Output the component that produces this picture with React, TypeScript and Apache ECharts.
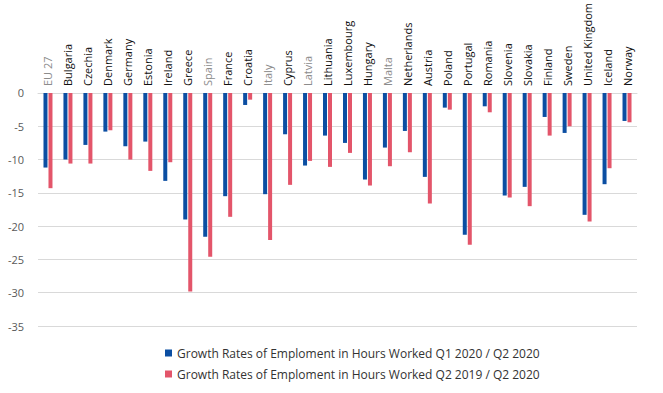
import React, { useEffect, useRef } from "react";
import * as echarts from "echarts";

const categories = [
  "EU 27", "Bulgaria", "Czechia", "Denmark", "Germany", "Estonia", "Ireland", "Greece", "Spain", "France",
  "Croatia", "Italy", "Cyprus", "Latvia", "Lithuania", "Luxembourg", "Hungary", "Malta", "Netherlands", "Austria",
  "Poland", "Portugal", "Romania", "Slovenia", "Slovakia", "Finland", "Sweden", "United Kingdom", "Iceland", "Norway",
];

const greyLabels = ["EU 27", "Spain", "Italy", "Latvia", "Malta"];

const q1q2_2020 = [
  -11.2, -10.0, -7.8, -5.8, -8.0, -7.3, -13.2, -19.0, -21.6, -15.5,
  -1.8, -15.2, -6.2, -10.9, -6.4, -7.5, -13.0, -8.2, -5.7, -12.6,
  -2.2, -21.3, -2.0, -15.4, -14.1, -3.6, -6.0, -18.3, -13.7, -4.2,
];

const q2_2019_q2_2020 = [
  -14.3, -10.6, -10.6, -5.6, -10.0, -11.7, -10.4, -29.8, -24.6, -18.6,
  -1.0, -22.1, -13.8, -10.2, -11.1, -9.0, -13.9, -11.0, -8.9, -16.6,
  -2.5, -22.8, -2.9, -15.7, -17.0, -6.4, -5.0, -19.3, -11.3, -4.4,
];

const seriesNames = [
  "Growth Rates of Emploment in Hours Worked Q1 2020 / Q2 2020",
  "Growth Rates of Emploment in Hours Worked Q2 2019 / Q2 2020",
];

const yTicks = { min: -35, max: 0, interval: 5 };

export default function App() {
  const ref = useRef<HTMLDivElement>(null);
  useEffect(() => {
    if (!ref.current) return;
    const chart = echarts.init(ref.current, null, { renderer: "svg" });
    chart.setOption({
      animation: false,
      textStyle: { fontFamily: "Open Sans" },
      grid: { left: 38, right: 26, top: 87, bottom: 67, containLabel: false },
      legend: {
        orient: "vertical",
        left: 160,
        top: 342,
        itemWidth: 7,
        itemHeight: 7,
        itemGap: 9,
        icon: "rect",
        textStyle: { fontSize: 12, color: "#333", fontFamily: "Open Sans" },
        data: seriesNames,
      },
      xAxis: {
        type: "category",
        position: "top",
        data: categories,
        axisLine: { show: true, lineStyle: { color: "#d9d9d9" } },
        axisTick: { show: false },
        axisLabel: {
          rotate: 90,
          interval: 0,
          margin: 7,
          fontSize: 11,
          fontFamily: "Open Sans",
          color: (v: string) => (greyLabels.includes(v) ? "#8c8c8c" : "#111"),
        },
      },
      yAxis: {
        type: "value",
        min: yTicks.min,
        max: yTicks.max,
        interval: yTicks.interval,
        axisLine: { show: false },
        axisTick: { show: false },
        axisLabel: { fontSize: 11, color: "#595959", margin: 14, fontFamily: "Open Sans" },
        splitLine: { lineStyle: { color: "#d9d9d9", width: 1 } },
      },
      series: [
        {
          name: seriesNames[0],
          type: "bar",
          data: q1q2_2020,
          barWidth: 4,
          barGap: "25%",
          itemStyle: { color: "#0b4ea2" },
        },
        {
          name: seriesNames[1],
          type: "bar",
          data: q2_2019_q2_2020,
          barWidth: 4,
          barGap: "25%",
          itemStyle: { color: "#e3556a" },
        },
      ],
    });
    return () => chart.dispose();
  }, []);
  return <div ref={ref} style={{ width: 663, height: 393, position: "absolute", left: 0, top: 0 }} />;
}
